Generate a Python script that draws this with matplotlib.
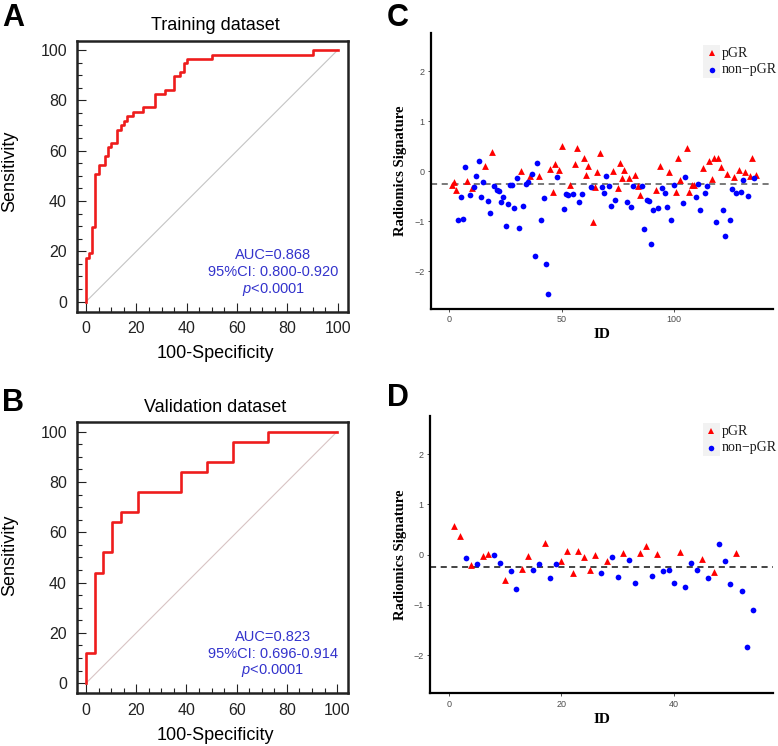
import matplotlib
matplotlib.use('Agg')
import matplotlib.pyplot as plt
from matplotlib.patches import Rectangle
from matplotlib.ticker import MultipleLocator

plt.rcParams['font.family'] = 'Liberation Sans'
plt.rcParams['mathtext.fontset'] = 'custom'
plt.rcParams['mathtext.it'] = 'Liberation Sans:italic'
plt.rcParams['mathtext.rm'] = 'Liberation Sans'

# ROC curves (100-Specificity, Sensitivity), corner points of the staircase
train_fpr = [0, 0, 1.25, 2.5, 3.75, 5, 7.5, 8.75, 10, 12.5, 13.75, 15, 16.25,
             18.75, 22.5, 27.5, 31.25, 35, 37.5, 38.75, 40, 50, 90, 100]
train_tpr = [0, 17.5, 19.3, 29.8, 50.9, 54.4, 57.9, 61.4, 63.2, 68.4, 70.2, 71.9,
             73.7, 75.4, 77.2, 82.5, 84.2, 89.5, 91.2, 94.7, 96.5, 98.2, 100, 100]
valid_fpr = [0, 0, 3.45, 6.9, 10.34, 13.79, 20.69, 37.93, 48.28, 58.62, 72.41, 100]
valid_tpr = [0, 12, 44, 52, 64, 68, 76, 84, 88, 96, 100, 100]

train_stats = ['AUC=0.868', '95%CI: 0.800-0.920', '$p$<0.0001']
valid_stats = ['AUC=0.823', '95%CI: 0.696-0.914', '$p$<0.0001']

# radiomics signature per patient (ID = position + 1), group P = pGR, N = non-pGR
train_sig = [-0.28, -0.22, -0.37, -0.97, -0.51, -0.95, 0.08, -0.20, -0.47, -0.33,
             -0.32, -0.09, 0.21, -0.51, -0.21, 0.11, -0.60, -0.84, 0.38, -0.30,
             -0.38, -0.39, -0.61, -0.52, -1.09, -0.65, -0.28, -0.27, -0.73, -0.13,
             -1.13, 0.01, -0.70, -0.26, -0.22, -0.09, -0.06, -1.69, 0.17, -0.10,
             -0.97, -0.53, -1.86, -2.46, 0.05, -0.42, 0.15, -0.11, 0.02, 0.51,
             -0.76, -0.46, -0.47, -0.27, -0.46, 0.15, 0.46, -0.62, -0.46, 0.26,
             -0.07, 0.10, -0.32, -1.02, -0.31, -0.01, 0.37, -0.31, -0.44, -0.10,
             -0.30, -0.70, 0.00, -0.58, -0.34, 0.16, -0.13, 0.03, -0.61, -0.14,
             -0.72, -0.29, -0.08, -0.29, -0.47, -0.29, -1.15, -0.58, -0.60, -1.46,
             -0.78, -0.37, -0.73, 0.11, -0.33, -0.44, -0.71, -0.02, -0.98, -0.27,
             -0.42, 0.27, -0.17, -0.64, -0.12, 0.47, -0.42, -0.27, -0.27, -0.51,
             -0.25, -0.77, 0.06, -0.43, -0.29, 0.20, -0.15, 0.27, -1.02, 0.27,
             0.08, -0.77, -1.29, -0.05, -0.98, -0.35, -0.11, -0.43, 0.03, -0.42,
             -0.17, -0.02, -0.50, -0.09, 0.27, -0.14, -0.07]
train_grp = ('PPPNNNNPNPNNNNNPNNPNNNNNNNNNNNNPNNNPNNNPNNNNPPPNPPNNNPNPPNNPPPNPPPPNNNNNPNPPPPNP'
             'NNPPPNNNNNNPNPNNNPNNPPPNNPPPPNNNPNNPPPNPPNNPNNPNPNNPNPPNP')

valid_sig = [0.58, 0.37, -0.07, -0.21, -0.19, -0.03, 0.01, 0.00, -0.17, -0.50,
             -0.33, -0.68, -0.28, -0.03, -0.30, -0.18, 0.24, -0.46, -0.19, -0.13,
             0.08, -0.36, 0.07, -0.05, -0.30, -0.01, -0.36, -0.12, -0.05, -0.44,
             0.04, -0.11, -0.56, 0.04, 0.18, -0.42, 0.02, -0.33, -0.31, -0.57,
             0.05, -0.64, -0.16, -0.30, -0.09, -0.47, -0.35, 0.22, -0.13, -0.58,
             0.04, -0.73, -1.83, -1.11]
valid_grp = 'PPNPNPPNNPNNPPNNPNNPPPPPPPNPNNPNNPPNPNNNPNNNPNPNNNPNNN'

cutoff = -0.25

fig = plt.figure(figsize=(7.78, 7.46), dpi=100)
W, H = 778.0, 746.0


def fig_ax(l, t, r, b):
    return fig.add_axes([l / W, 1 - b / H, (r - l) / W, (b - t) / H])


def roc_panel(ax, fpr, tpr, stats, diag_color):
    ax.plot([0, 100], [0, 100], color=diag_color, lw=0.8)
    ax.plot(fpr, tpr, drawstyle='steps-post', color='#ee1c1c', lw=1.9)
    ax.set_xlim(-3.7, 104.2)
    ax.set_ylim(-4, 103.7)
    ax.set_xticks(range(0, 101, 20))
    ax.set_yticks(range(0, 101, 20))
    ax.xaxis.set_minor_locator(MultipleLocator(5))
    ax.yaxis.set_minor_locator(MultipleLocator(5))
    ax.tick_params(which='major', direction='in', length=6.5, width=0.8,
                   labelsize=11.5, pad=7, colors='#222222')
    ax.tick_params(which='minor', direction='in', length=3.3, width=0.8, colors='#222222')
    for s in ax.spines.values():
        s.set_linewidth(1.8)
        s.set_color('#222222')
    for i, txt in enumerate(stats):
        ax.text(74.3, 18.5 - 6.8 * i, txt, ha='center', va='center',
                fontsize=10.5, color='#3333cc')


def sig_panel(ax, sig, grp, xmax, xticks, key):
    ids = list(range(1, len(sig) + 1))
    px = [i for i, g in zip(ids, grp) if g == 'P']
    py = [v for v, g in zip(sig, grp) if g == 'P']
    nx = [i for i, g in zip(ids, grp) if g == 'N']
    ny = [v for v, g in zip(sig, grp) if g == 'N']
    ax.axhline(cutoff, color=key['dash'], lw=1.1, ls=(0, (4, 3)), zorder=1)
    ax.scatter(px, py, marker='^', s=24, color='red', lw=0, zorder=3)
    ax.scatter(nx, ny, marker='o', s=17, color='blue', lw=0, zorder=3)
    ax.set_xlim(-xmax * 0.058, xmax)
    ax.set_ylim(-2.76, 2.76)
    ax.set_xticks(xticks)
    ax.set_yticks([-2, -1, 0, 1, 2])
    ax.tick_params(length=2.5, width=0.6, colors='#333333', labelsize=6.5,
                   labelcolor='#4d4d4d', pad=2)
    ax.spines['top'].set_visible(False)
    ax.spines['right'].set_visible(False)
    ax.spines['left'].set_linewidth(1.6)
    ax.spines['bottom'].set_linewidth(1.6)
    ax.set_xlabel('ID', family='Liberation Serif', fontweight='bold', fontsize=11, labelpad=3)
    ax.set_ylabel('Radiomics Signature', family='Liberation Serif', fontweight='bold',
                  fontsize=10.5, labelpad=5)
    # legend keys with grey background
    x0, x1, yb, yt = key['box']
    ax.add_patch(Rectangle((x0, yb), x1 - x0, yt - yb, transform=ax.transAxes,
                           facecolor='#f2f2f2', edgecolor='none', zorder=2))
    mx = (x0 + x1) / 2
    ytop = yb + (yt - yb) * 0.75
    ybot = yb + (yt - yb) * 0.25
    ax.plot([mx], [ytop], marker='^', ms=5, color='red', mew=0, transform=ax.transAxes)
    ax.plot([mx], [ybot], marker='o', ms=4, color='blue', mew=0, transform=ax.transAxes)
    ax.text(x1 + 0.006, ytop, 'pGR', transform=ax.transAxes, va='center',
            family='Liberation Serif', fontsize=10, color='#1a1a1a')
    ax.text(x1 + 0.006, ybot, 'non\u2212pGR', transform=ax.transAxes, va='center',
            family='Liberation Serif', fontsize=10, color='#1a1a1a')


axA = fig_ax(76.7, 40.7, 348.3, 311.7)
roc_panel(axA, train_fpr, train_tpr, train_stats, '#c4c4c4')
axB = fig_ax(76.7, 422.3, 347.7, 693.3)
roc_panel(axB, valid_fpr, valid_tpr, valid_stats, '#d8c4c4')

for yt, yl, yx, title in [(25, 171.7, 354, 'Training dataset'),
                          (407.3, 555, 735.7, 'Validation dataset')]:
    fig.text(215 / W, 1 - yt / H, title, ha='center', va='center', fontsize=13)
    fig.text(10 / W, 1 - yl / H, 'Sensitivity', ha='center', va='center',
             rotation=90, fontsize=13)
    fig.text(215 / W, 1 - yx / H, '100-Specificity', ha='center', va='center', fontsize=13)

axC = fig_ax(430.7, 33.3, 773.3, 309)
sig_panel(axC, train_sig, train_grp, 144.5, [0, 50, 100],
          {'dash': '#555555', 'box': (0.796, 0.844, 0.837, 0.958)})
axD = fig_ax(430, 416, 773.3, 693.3)
sig_panel(axD, valid_sig, valid_grp, 57.6, [0, 20, 40],
          {'dash': '#111111', 'box': (0.795, 0.844, 0.856, 0.974)})

for lx, ly, letter in [(13, 18, 'A'), (13, 403, 'B'), (398, 18, 'C'), (398, 398, 'D')]:
    fig.text(lx / W, 1 - ly / H, letter, ha='center', va='center',
             fontsize=22, fontweight='bold')

fig.savefig('out.png', dpi=100)
